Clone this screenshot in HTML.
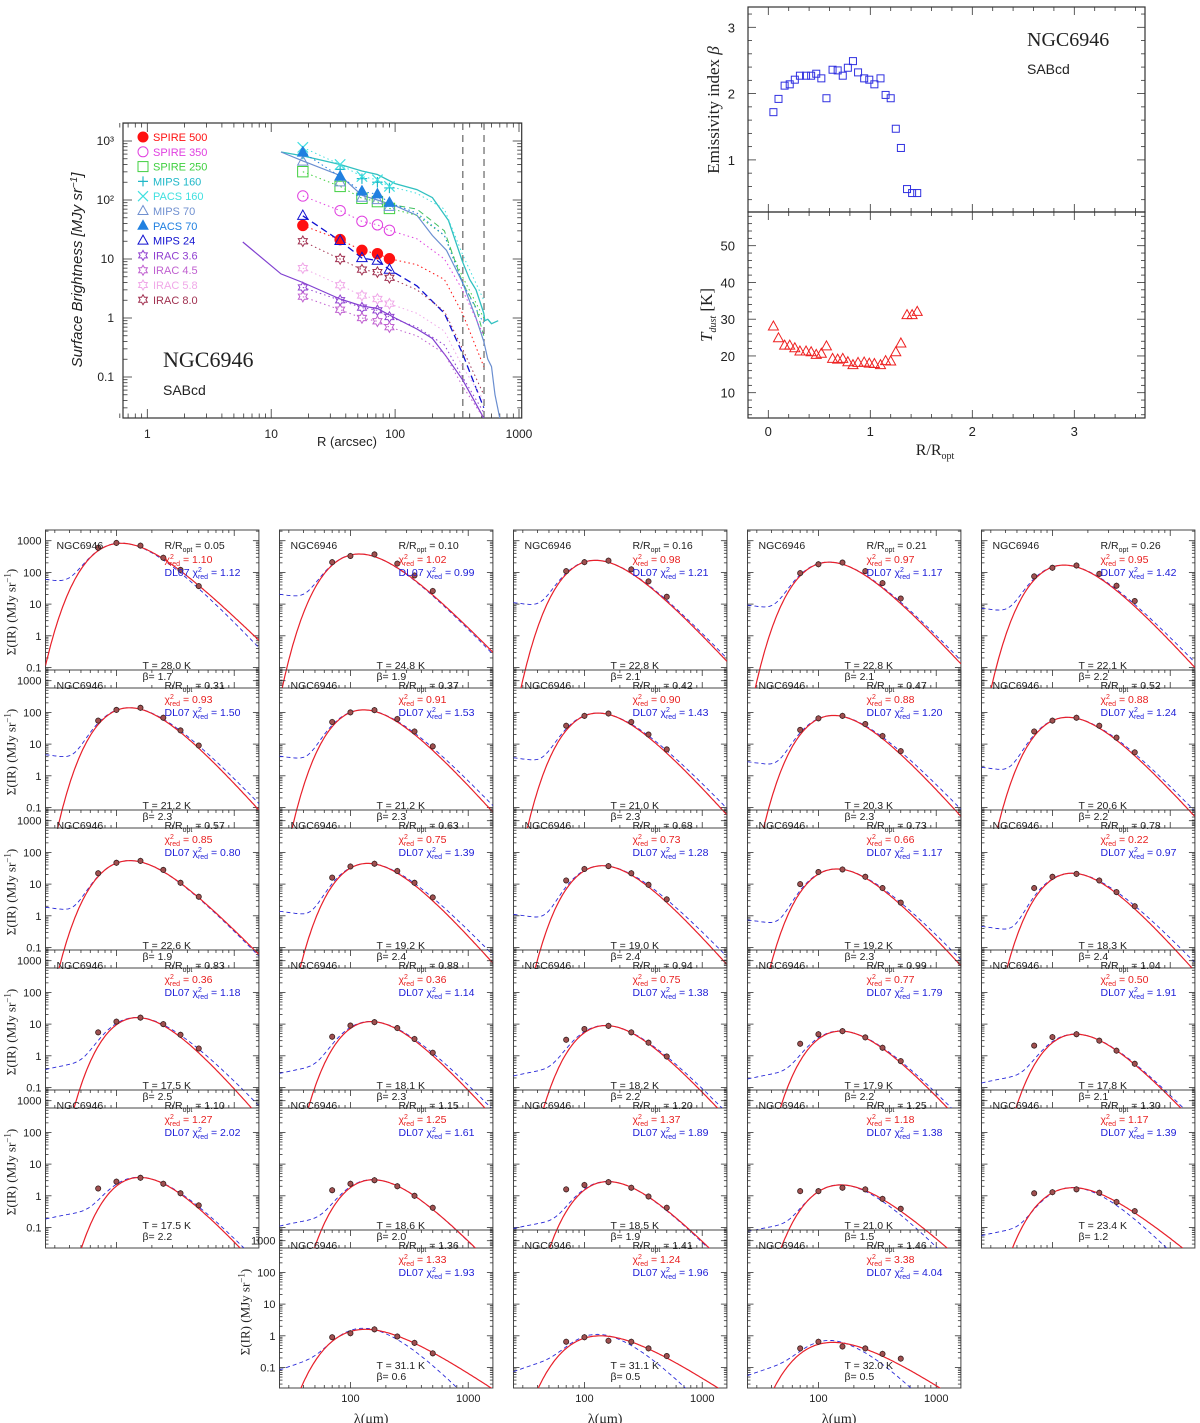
<!DOCTYPE html>
<html><head><meta charset="utf-8"><title>NGC6946 dust profiles</title>
<style>
html,body{margin:0;padding:0;background:#fff;}
svg{display:block;font-family:"Liberation Sans","DejaVu Sans",sans-serif;}
</style></head>
<body>
<svg id="fig" width="1200" height="1423" viewBox="0 0 1200 1423" xmlns="http://www.w3.org/2000/svg"></svg>
<script>
// ---------- shared radial data ----------
const radii = [0.05,0.10,0.16,0.21,0.26,0.31,0.37,0.42,0.47,0.52,0.57,0.63,0.68,0.73,0.78,0.83,0.88,0.94,0.99,1.04,1.10,1.15,1.20,1.25,1.30,1.36,1.41,1.46];
const tDust = [28.0,24.8,22.8,22.8,22.1,21.2,21.2,21.0,20.3,20.6,22.6,19.2,19.0,19.2,18.3,17.5,18.1,18.2,17.9,17.8,17.5,18.6,18.5,21.0,23.4,31.1,31.1,32.0];
const betaFit = [1.72,1.92,2.12,2.14,2.21,2.27,2.27,2.27,2.30,2.23,1.93,2.36,2.35,2.27,2.39,2.49,2.32,2.23,2.21,2.14,2.23,1.98,1.93,1.47,1.18,0.56,0.50,0.50];
const chiMBB = ["1.10","1.02","0.98","0.97","0.95","0.93","0.91","0.90","0.88","0.88","0.85","0.75","0.73","0.66","0.22","0.36","0.36","0.75","0.77","0.50","1.27","1.25","1.37","1.18","1.17","1.33","1.24","3.38"];
const chiDL = ["1.12","0.99","1.21","1.17","1.42","1.50","1.53","1.43","1.20","1.24","0.80","1.39","1.28","1.17","0.97","1.18","1.14","1.38","1.79","1.91","2.02","1.61","1.89","1.38","1.39","1.93","1.96","4.04"];
const peakSB = [830,380,240,210,170,140,120,95,80,70,55,45,38,30,22,16,12,9,6,4.8,3.8,3.2,2.8,2.2,1.8,1.6,1.0,0.62];
const warmLevel = [65,22,12,10,8,5,4.5,4,3,2,2,1.5,1.2,0.8,0.5,0.4,0.3,0.25,0.2,0.15,0.2,0.12,0.1,0.08,0.06,0.09,0.08,0.06];
const warmSlope = [-0.3,-0.3,-0.3,-0.3,-0.3,-0.3,-0.3,-0.3,-0.3,-0.3,-0.3,-0.3,-0.3,-0.3,-0.3,1,1,1,1,1,1,1,1,1,1,1.5,1.5,1.5];
const sedWave = [70,100,160,250,350,500];
const sedFlux = [
 [600,850,700,290,120,37],[210,330,370,190,80,26],[110,210,235,125,52,17],[95,180,205,110,46,15],[75,140,165,90,38,12.5],
 [55,120,140,68,27,9],[50,100,118,62,25,8.5],[38,78,92,50,20,6.8],[28,65,78,43,18,6],[25,55,68,38,16,5.5],
 [22,47,54,28,11,4],[16,36,44,26,11,3.8],[13,30,37,22,9.5,3.3],[10,24,29,17,7.5,2.6],[7.5,17,21,13,5.6,2],
 [5.5,12,16,10,4.6,1.7],[4,9,11.5,7.5,3.4,1.25],[3.2,7,8.8,5.5,2.6,0.95],[2.4,4.8,6,3.8,1.8,0.68],[2.1,3.9,4.8,3.0,1.45,0.56],
 [1.7,2.8,3.7,2.4,1.2,0.5],[1.5,2.4,3.1,2.0,1.0,0.42],[1.6,2.2,2.7,1.8,0.95,0.42],[1.4,1.4,1.8,1.6,0.8,0.39],[1.2,1.3,1.6,1.25,0.64,0.33],
 [0.9,1.2,1.6,0.95,0.6,0.28],[0.65,0.9,0.7,0.65,0.4,0.23],[0.4,0.65,0.46,0.4,0.27,0.19]
];
// ---------- surface brightness profile data ----------
const profR = [18,36,54,72,90];
const tailR = [150,250,350,520];
const bandNames = ["SPIRE 500","SPIRE 350","SPIRE 250","MIPS 160","PACS 160","MIPS 70","PACS 70","MIPS 24","IRAC 3.6","IRAC 4.5","IRAC 5.8","IRAC 8.0"];
const bandColors = ["#ff1010","#e040e0","#40d040","#20b8c8","#40e0e0","#7090d0","#2080e0","#1010d0","#9040d0","#c060d0","#f0a8e8","#a03050"];
const bandMarkers = ["fcircle","ocircle","osquare","plus","cross","otri","ftri","otri","star","star","star","star"];
const sb500 = [37,21.3,14,12.3,10.1];
const sb350 = [117,66,43.5,38,30.6];
const sb250 = [302,170,107,94,72];
const sbM160 = [600,330,230,200,160];
const sbP160 = [780,400,250,220,170];
const sbM70 = [450,200,110,100,77];
const sbP70 = [640,250,140,125,90];
const sbM24 = [54,20.3,10.4,9.4,6.6];
const sbI36 = [3.3,2.0,1.5,1.35,1.04];
const sbI45 = [2.3,1.38,1.0,0.88,0.70];
const sbI58 = [7.0,3.6,2.4,2.1,1.75];
const sbI80 = [20,10,6.6,6,4.8];
const bandValues = [sb500,sb350,sb250,sbM160,sbP160,sbM70,sbP70,sbM24,sbI36,sbI45,sbI58,sbI80];
const tail500 = [8,4.5,1.2,0.15];
const tail350 = [22,10,3,0.5];
const tail250 = [55,25,5,1];
const tailP160 = [130,70,12,2];
const tailP70 = [60,25,4,0.8];
const tailM24 = [3.5,1.2,0.25,0.03];
const tailI36 = [0.7,0.35,0.1,0.025];
const tailI45 = [0.5,0.25,0.07,0.02];
const tailI58 = [1.2,0.6,0.15,0.04];
const tailI80 = [3,1.3,0.3,0.05];
const bandTails = [tail500,tail350,tail250,null,tailP160,null,tailP70,tailM24,tailI36,tailI45,tailI58,tailI80];
const lineI36R = [5.9,12,18,36,54,72,100,150,200,260,350,450,520];
const lineI36V = [19.4,5.6,4,2.1,1.6,1.45,1.0,0.65,0.45,0.22,0.09,0.035,0.02];
const lineP160R = [12,18,36,54,72,100,150,200,270,350,400,450,520,530,560,600,680];
const lineP160V = [650,560,400,310,270,190,150,110,45,9,4.5,3,1.2,0.9,0.95,0.8,0.9];
const lineM70R = [12,18,36,54,72,100,150,200,260,350,450,520,560,600,640,700];
const lineM70V = [650,460,260,120,100,80,55,25,14,4,1,0.4,0.2,0.15,0.05,0.02];
const lineG250R = [90,150,250,350,450,520];
const lineG250V = [85,70,30,4,1.5,0.5];
const vlinesR = [352,522];

const NS = "http://www.w3.org/2000/svg";
const svg = document.getElementById("fig");
function mk(tag, attrs, parent){
  const e = document.createElementNS(NS, tag);
  for (const k in attrs) e.setAttribute(k, attrs[k]);
  (parent||svg).appendChild(e);
  return e;
}
function nm(e, name, inter){
  
  
  return e;
}
function txt(x,y,s,attrs,parent){
  const t = mk('text', Object.assign({x:x,y:y}, attrs||{}), parent);
  t.textContent = s;
  return t;
}
const defs = mk('defs', {});
nm(defs,'defs');

function logTicks(g, x0, x1, y0, y1, vertical, pos, lo, hi, majLen, minLen){
  for (let d = Math.floor(Math.log10(lo)); d <= Math.ceil(Math.log10(hi)); d++){
    for (let m = 1; m <= 9; m++){
      const v = m*Math.pow(10,d);
      if (v < lo*0.999 || v > hi*1.001) continue;
      const p = pos(v);
      const len = m===1 ? majLen : minLen;
      if (vertical){
        mk('line',{x1:p,x2:p,y1:y1,y2:y1-len,stroke:'#333','stroke-width':0.8},g);
        mk('line',{x1:p,x2:p,y1:y0,y2:y0+len,stroke:'#333','stroke-width':0.8},g);
      } else {
        mk('line',{x1:x0,x2:x0+len,y1:p,y2:p,stroke:'#333','stroke-width':0.8},g);
        mk('line',{x1:x1,x2:x1-len,y1:p,y2:p,stroke:'#333','stroke-width':0.8},g);
      }
    }
  }
}
function linTicks(g, x0, x1, y0, y1, vertical, pos, lo, hi, step, minor, majLen, minLen){
  const n0 = Math.ceil(lo/minor-1e-9), n1 = Math.floor(hi/minor+1e-9);
  for (let n=n0;n<=n1;n++){
    const v = n*minor;
    const isMaj = Math.abs(v/step - Math.round(v/step))<1e-6;
    const len = isMaj?majLen:minLen;
    const p = pos(v);
    if (vertical){
      mk('line',{x1:p,x2:p,y1:y1,y2:y1-len,stroke:'#333','stroke-width':0.8},g);
      mk('line',{x1:p,x2:p,y1:y0,y2:y0+len,stroke:'#333','stroke-width':0.8},g);
    } else {
      mk('line',{x1:x0,x2:x0+len,y1:p,y2:p,stroke:'#333','stroke-width':0.8},g);
      mk('line',{x1:x1,x2:x1-len,y1:p,y2:p,stroke:'#333','stroke-width':0.8},g);
    }
  }
}
function marker(g, type, x, y, s, color){
  let e;
  if (type==='fcircle'){ e = mk('circle',{cx:x,cy:y,r:s,fill:color,stroke:color},g); }
  else if (type==='ocircle'){ e = mk('circle',{cx:x,cy:y,r:s,fill:'none',stroke:color,'stroke-width':1},g); }
  else if (type==='osquare'){ e = mk('rect',{x:x-s,y:y-s,width:2*s,height:2*s,fill:'none',stroke:color,'stroke-width':1},g); }
  else if (type==='plus'){ e = mk('path',{d:`M${x-s},${y}H${x+s}M${x},${y-s}V${y+s}`,stroke:color,'stroke-width':1.2,fill:'none'},g); }
  else if (type==='cross'){ e = mk('path',{d:`M${x-s},${y-s}L${x+s},${y+s}M${x-s},${y+s}L${x+s},${y-s}`,stroke:color,'stroke-width':1.2,fill:'none'},g); }
  else if (type==='otri' || type==='ftri'){
    e = mk('path',{d:`M${x},${y-s*1.1}L${x+s},${y+s*0.7}L${x-s},${y+s*0.7}Z`,fill:type==='ftri'?color:'none',stroke:color,'stroke-width':1},g);
  } else {
    let d='';
    for (let k=0;k<12;k++){
      const a = -Math.PI/2 + k*Math.PI/6;
      const r = k%2===0 ? s : s*0.58;
      d += (k===0?'M':'L') + (x+r*Math.cos(a)).toFixed(2)+','+(y+r*Math.sin(a)).toFixed(2);
    }
    e = mk('path',{d:d+'Z',fill:'none',stroke:color,'stroke-width':1},g);
  }
  return e;
}

// =============== TOP-LEFT: surface brightness profiles ===============
(function(){
  const g = mk('g',{}); nm(g,'surface-brightness-chart');
  const L=123, R=521.7, T=123, B=418;
  const xs = r => 147.3 + 123.9*Math.log10(r);
  const ys = v => 141 + (3-Math.log10(v))*59;
  const cp = mk('clipPath',{id:'clipSB'},defs);
  mk('rect',{x:L,y:T,width:R-L,height:B-T},cp);
  const box = mk('rect',{x:L,y:T,width:R-L,height:B-T,fill:'none',stroke:'#333','stroke-width':1.2},g);
  nm(box,'plot-frame');
  logTicks(g,L,R,T,B,true,xs,0.6,1000,9,4.5);
  logTicks(g,L,R,T,B,false,ys,0.021,2000,9,4.5);
  const xl = [[1,'1'],[10,'10'],[100,'100'],[1000,'1000']];
  xl.forEach(p=>{ const t=txt(xs(p[0]),438,p[1],{'text-anchor':'middle','font-size':12,fill:'#222'},g); nm(t,'x-tick-label'); });
  const yl = [[1000,'10³'],[100,'10²'],[10,'10'],[1,'1'],[0.1,'0.1']];
  yl.forEach(p=>{ const t=txt(114,ys(p[0])+4,p[1],{'text-anchor':'end','font-size':12,fill:'#222'},g); nm(t,'y-tick-label'); });
  const xt = txt(347,446,'R (arcsec)',{'text-anchor':'middle','font-size':13,fill:'#222'},g); nm(xt,'x-axis-title');
  const yt = txt(0,0,'',{'font-size':15,fill:'#222','font-style':'italic','text-anchor':'middle',transform:'translate(82,270) rotate(-90)'},g);
  yt.innerHTML = 'Surface Brightness  [MJy sr<tspan dy="-5" font-size="10">−1</tspan><tspan dy="5">]</tspan>';
  nm(yt,'y-axis-title');
  const cg = mk('g',{'clip-path':'url(#clipSB)'},g); nm(cg,'plot-area');
  vlinesR.forEach(r=>{ const l=mk('line',{x1:xs(r),x2:xs(r),y1:T,y2:B,stroke:'#666','stroke-width':1.2,'stroke-dasharray':'7,5'},cg); nm(l,'optical-radius-line'); });
  function poly(rs,vs,color,dash,w,name){
    const d = rs.map((r,i)=>(i?'L':'M')+xs(r).toFixed(1)+','+ys(vs[i]).toFixed(1)).join('');
    const p = mk('path',{d:d,fill:'none',stroke:color,'stroke-width':w,'stroke-dasharray':dash||'none'},cg);
    nm(p,name);
  }
  poly(lineG250R,lineG250V,'#40c060','6,4',1,'spire250-dashed-profile');
  poly(lineP160R,lineP160V,'#30c0c0',null,1.3,'pacs160-profile');
  poly(lineM70R,lineM70V,'#6a8ed0',null,1.2,'mips70-profile');
  poly(lineI36R,lineI36V,'#8040d0',null,1.2,'irac36-profile');
  bandValues.forEach((vals,b)=>{
    const tail = bandTails[b];
    if (tail){
      const rs = profR.concat(tailR), vs = vals.concat(tail);
      poly(rs,vs,bandColors[b], b===7?'7,4':'1.5,3', b===7?1.3:1,'band-dotted-line');
    }
  });
  bandValues.forEach((vals,b)=>{
    vals.forEach((v,i)=>{
      const m = marker(cg,bandMarkers[b],xs(profR[i]),ys(v),5.2,bandColors[b]);
      nm(m,'marker-'+bandNames[b].toLowerCase().replace(/[ .]/g,'-'));
    });
  });
  bandNames.forEach((n,b)=>{
    const y = 137 + b*14.8;
    const lg = mk('g',{},g); nm(lg,'legend-entry');
    marker(lg,bandMarkers[b],143,y,5,bandColors[b]);
    txt(153,y+4,n,{'font-size':11,fill:bandColors[b]},lg);
  });
  const t1 = txt(163,367,'NGC6946',{'font-size':22,'font-family':'"Liberation Serif",serif',fill:'#222'},g); nm(t1,'galaxy-name');
  const t2 = txt(163,395,'SABcd',{'font-size':14,fill:'#222'},g); nm(t2,'galaxy-type');
})();

// =============== TOP-RIGHT: beta and Tdust ===============
(function(){
  const g = mk('g',{}); nm(g,'beta-tdust-chart');
  const L=748, R=1145;
  const xs = r => 768.3 + 102*r;
  const yb = b => 27.3 + (3-b)*66.3;
  const yt = t => 245.7 + (50-t)*3.675;
  const b1 = mk('rect',{x:L,y:7,width:R-L,height:205,fill:'none',stroke:'#333','stroke-width':1.2},g); nm(b1,'beta-panel-frame');
  const b2 = mk('rect',{x:L,y:212,width:R-L,height:206,fill:'none',stroke:'#333','stroke-width':1.2},g); nm(b2,'tdust-panel-frame');
  linTicks(g,L,R,7,212,true,xs,-0.2,3.7,1,0.2,8,4);
  linTicks(g,L,R,212,418,true,xs,-0.2,3.7,1,0.2,8,4);
  linTicks(g,L,R,7,212,false,yb,0.22,3.31,1,0.2,8,4);
  linTicks(g,L,R,212,418,false,yt,3.1,59,10,2,8,4);
  [1,2,3].forEach(v=>{ const t=txt(735,yb(v)+5,String(v),{'text-anchor':'end','font-size':13,fill:'#222'},g); nm(t,'beta-tick-label'); });
  [10,20,30,40,50].forEach(v=>{ const t=txt(735,yt(v)+5,String(v),{'text-anchor':'end','font-size':13,fill:'#222'},g); nm(t,'tdust-tick-label'); });
  [0,1,2,3].forEach(v=>{ const t=txt(xs(v),436,String(v),{'text-anchor':'middle','font-size':13,fill:'#222'},g); nm(t,'x-tick-label'); });
  const xt = txt(935,455,'',{'text-anchor':'middle','font-size':16,fill:'#222','font-family':'"Liberation Serif",serif'},g);
  xt.innerHTML = 'R/R<tspan dy="4" font-size="10">opt</tspan>';
  nm(xt,'x-axis-title');
  const ybt = txt(0,0,'',{'text-anchor':'middle','font-size':17,fill:'#222','font-family':'"Liberation Serif",serif',transform:'translate(719,110) rotate(-90)'},g);
  ybt.innerHTML = 'Emissivity index <tspan font-style="italic">β</tspan>';
  nm(ybt,'beta-axis-title');
  const ytt = txt(0,0,'',{'text-anchor':'middle','font-size':17,fill:'#222','font-family':'"Liberation Serif",serif',transform:'translate(712,315) rotate(-90)'},g);
  ytt.innerHTML = '<tspan font-style="italic">T</tspan><tspan dy="4" font-size="10" font-style="italic">dust</tspan><tspan dy="-4">  [K]</tspan>';
  nm(ytt,'tdust-axis-title');
  const n1 = txt(1027,46,'NGC6946',{'font-size':20,'font-family':'"Liberation Serif",serif',fill:'#222'},g); nm(n1,'galaxy-name');
  const n2 = txt(1027,74,'SABcd',{'font-size':14,fill:'#222'},g); nm(n2,'galaxy-type');
  radii.forEach((r,i)=>{
    const m = mk('rect',{x:xs(r)-3.5,y:yb(betaFit[i])-3.5,width:7,height:7,fill:'none',stroke:'#3030e0','stroke-width':1},g);
    nm(m,'beta-point');
    const t = marker(g,'otri',xs(r),yt(tDust[i]),5,'#ee2020');
    nm(t,'tdust-point');
  });
})();

// =============== BOTTOM: SED grid ===============
const LMIN = Math.log10(25), LMAX = Math.log10(1620);
function mbb(lam,T,beta){ return Math.pow(1/lam,3+beta)/(Math.exp(14388/(lam*T))-1); }
function xpeak(beta){ let x=5; for(let k=0;k<50;k++) x=(3+beta)*(1-Math.exp(-x)); return x; }
const lamGrid = [];
for (let k=0;k<=160;k++) lamGrid.push(Math.pow(10, LMIN + (LMAX-LMIN)*k/160));

radii.forEach((rr,i)=>{
  let row, col;
  if (i<25){ row=Math.floor(i/5); col=i%5; } else { row=5; col=i-24; }
  const L = 45.5+234*col, T0 = 530+140*row, Wd = 213.4, H = 158;
  const X = lam => L + (Math.log10(lam)-LMIN)/(LMAX-LMIN)*Wd;
  const Y = v => T0 + 10.7 + (3-Math.log10(v))*31.7;
  const g = mk('g',{}); nm(g,'sed-panel');
  const cp = mk('clipPath',{id:'clipSED'+i},defs);
  mk('rect',{x:L,y:T0,width:Wd,height:H},cp);
  const fr = mk('rect',{x:L,y:T0,width:Wd,height:H,fill:'none',stroke:'#444','stroke-width':1},g); nm(fr,'panel-frame');
  logTicks(g,L,L+Wd,T0,T0+H,true,X,30,1600,6,3);
  logTicks(g,L,L+Wd,T0,T0+H,false,Y,0.03,2000,6,3);
  if (col===0 || i===25){
    [[1000,'1000'],[100,'100'],[10,'10'],[1,'1'],[0.1,'0.1']].forEach(p=>{
      const t=txt(L-4,Y(p[0])+4,p[1],{'text-anchor':'end','font-size':11,fill:'#222'},g); nm(t,'y-tick-label');
    });
    const ya = txt(0,0,'',{'text-anchor':'middle','font-size':13,fill:'#222','font-family':'"Liberation Serif",serif',transform:`translate(${L-30},${T0+82}) rotate(-90)`},g);
    ya.innerHTML = 'Σ(IR)  (MJy sr<tspan dy="-5" font-size="9">−1</tspan><tspan dy="5">)</tspan>';
    nm(ya,'y-axis-title');
  }
  if (i>=25){
    [[100,'100'],[1000,'1000']].forEach(p=>{
      const t=txt(X(p[0]),T0+H+14,p[1],{'text-anchor':'middle','font-size':11,fill:'#222'},g); nm(t,'x-tick-label');
    });
    const xa = txt(X(150),T0+H+35,'λ(μm)',{'text-anchor':'middle','font-size':14,fill:'#222','font-family':'"Liberation Serif",serif'},g);
    nm(xa,'x-axis-title');
  }
  const cg = mk('g',{'clip-path':`url(#clipSED${i})`},g);
  const Td = tDust[i], bt = betaFit[i];
  const red = lamGrid.map(l=>mbb(l,Td,bt));
  const rmax = Math.max(...red);
  const Tb = Td*xpeak(bt)/xpeak(2);
  const blueB = lamGrid.map(l=>mbb(l,Tb,2));
  const bmax = Math.max(...blueB);
  const dRed = lamGrid.map((l,k)=>(k?'L':'M')+X(l).toFixed(1)+','+Math.min(Y(peakSB[i]*red[k]/rmax),T0+H+50).toFixed(1)).join('');
  const dBlue = lamGrid.map((l,k)=>{
    const v = peakSB[i]*blueB[k]/bmax + warmLevel[i]*Math.pow(l/25,warmSlope[i])*Math.exp(-Math.pow(l/90,2));
    return (k?'L':'M')+X(l).toFixed(1)+','+Math.min(Y(v),T0+H+50).toFixed(1);
  }).join('');
  const pb = mk('path',{d:dBlue,fill:'none',stroke:'#2a2ad8','stroke-width':0.9,'stroke-dasharray':'4,3'},cg); nm(pb,'dl07-model-curve');
  const pr = mk('path',{d:dRed,fill:'none',stroke:'#e8202a','stroke-width':1.2},cg); nm(pr,'mbb-model-curve');
  sedWave.forEach((w,k)=>{
    const v = sedFlux[i][k];
    const e1 = mk('line',{x1:X(w),x2:X(w),y1:Y(v*1.25),y2:Y(v*0.8),stroke:'#333','stroke-width':0.7},cg); nm(e1,'error-bar');
    const c = mk('circle',{cx:X(w),cy:Y(v),r:2.6,fill:'#a05050',stroke:'#3a2020','stroke-width':0.8},cg); nm(c,'sed-data-point');
  });
  const tg = mk('g',{'font-size':10.5,fill:'#222'},g); nm(tg,'panel-annotations');
  const a1 = txt(L+11,T0+19,'NGC6946',{},tg); nm(a1,'galaxy-label');
  const a2 = txt(L+119,T0+19,'',{},tg);
  a2.innerHTML = `R/R<tspan dy="3" font-size="7">opt</tspan><tspan dy="-3"> = ${rr.toFixed(2)}</tspan>`;
  nm(a2,'radius-label');
  const a3 = txt(L+119,T0+33,'',{fill:'#e82020'},tg);
  a3.innerHTML = `χ<tspan dy="-4" font-size="7">2</tspan><tspan dx="-4" dy="7" font-size="7">red</tspan><tspan dy="-3"> = ${chiMBB[i]}</tspan>`;
  nm(a3,'mbb-chi2-label');
  const a4 = txt(L+119,T0+46,'',{fill:'#2020d8'},tg);
  a4.innerHTML = `DL07 χ<tspan dy="-4" font-size="7">2</tspan><tspan dx="-4" dy="7" font-size="7">red</tspan><tspan dy="-3"> = ${chiDL[i]}</tspan>`;
  nm(a4,'dl07-chi2-label');
  const a5 = txt(L+97,T0+139,`T = ${Td.toFixed(1)} K`,{},tg); nm(a5,'temperature-label');
  const a6 = txt(L+97,T0+150,`β= ${bt.toFixed(1)}`,{},tg); nm(a6,'beta-label');
});
</script>
</body></html>
